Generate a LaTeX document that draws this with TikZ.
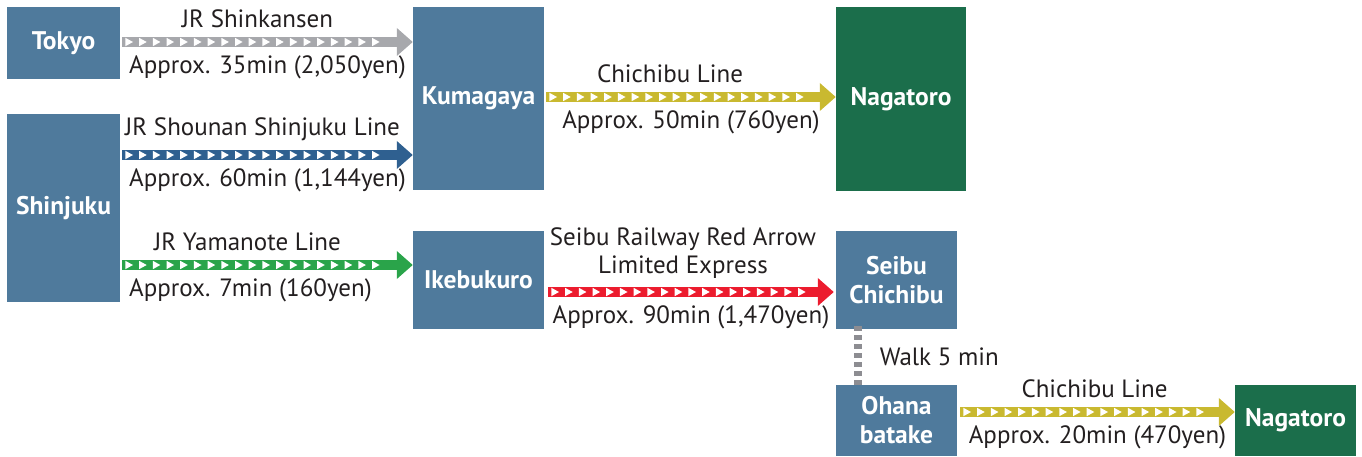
\documentclass[tikz,border=0pt]{standalone}
\usepackage{fontspec}
\setmainfont{PT Sans}
\usetikzlibrary{arrows.meta,decorations.markings,calc}
\definecolor{stationblue}{HTML}{4F7A9C}
\definecolor{goalgreen}{HTML}{1B6E4B}
\definecolor{textgray}{HTML}{231F20}
\definecolor{railgray}{HTML}{A7A8AC}
\definecolor{railblue}{HTML}{2F6090}
\definecolor{railgreen}{HTML}{2AA44A}
\definecolor{railolive}{HTML}{C9B930}
\definecolor{railred}{HTML}{EC1C2E}
\definecolor{walkgray}{HTML}{8D8D92}
\tikzset{
  station/.style={fill=stationblue, text=white, align=center, inner sep=0pt,
    font=\bfseries\fontsize{25.5}{29}\selectfont},
  goal/.style={station, fill=goalgreen},
  rail/.style={draw=#1, line width=10pt, -{Triangle[length=16pt,width=27pt]},
    postaction={decorate, decoration={markings,
      mark=between positions 7pt and -24pt step 13.7pt with
        {\fill[white] (-3.8pt,-4.2pt) -- (3.8pt,0pt) -- (-3.8pt,4.2pt) -- cycle;}}}},
  walk/.style={draw=walkgray, line width=8pt, dash pattern=on 5pt off 4pt},
  info/.style={text=textgray, inner sep=0pt, align=center,
    font=\fontsize{25}{28}\selectfont}
}
\begin{document}
\begin{tikzpicture}[x=1pt,y=-1pt]
    \useasboundingbox (0,0) rectangle (1362,457);
    % stations
    \node[station, minimum width=113, minimum height=72] (tokyo) at (63.5,43) {Tokyo};
    \node[station, minimum width=113, minimum height=188] (shinjuku) at (63.5,208) {Shinjuku};
    \node[station, minimum width=131, minimum height=183] (kumagaya) at (478.5,98.5) {Kumagaya};
    \node[station, minimum width=131, minimum height=98] (ikebukuro) at (478.5,280) {Ikebukuro};
    \node[goal, minimum width=130, minimum height=184] (nagatoro) at (901,99) {Nagatoro};
    \node[station, minimum width=121, minimum height=98] (seibu) at (896.5,280) {Seibu\\Chichibu};
    \node[station, minimum width=121, minimum height=71] (ohana) at (896.5,420.5) {Ohana\\batake};
    \node[goal, minimum width=121, minimum height=71] (nagatoro2) at (1295.5,420.5) {Nagatoro};
    % start points
    \path (tokyo.east) ++(2,-1) coordinate (tk);
    \path (shinjuku.east) ++(2,-53) coordinate (sj1);
    \path (shinjuku.east) ++(2,57) coordinate (sj2);
    \path (kumagaya.east) ++(2,-1.5) coordinate (kg);
    \path (ikebukuro.east) ++(4,12) coordinate (ik);
    \path (ohana.east) ++(3,-8.5) coordinate (oh);
    % lines
    \draw[rail=railgray] (tk) -- (tk -| kumagaya.west)
      node[info, midway, above=9pt, xshift=-10pt] {JR Shinkansen}
      node[info, midway, below=9pt] {Approx. 35min (2,050yen)};
    \draw[rail=railblue] (sj1) -- (sj1 -| kumagaya.west)
      node[info, midway, above=9pt, xshift=-5pt] {JR Shounan Shinjuku Line}
      node[info, midway, below=9pt] {Approx. 60min (1,144yen)};
    \draw[rail=railgreen] (sj2) -- (sj2 -| ikebukuro.west)
      node[info, midway, above=9pt, xshift=-20pt] {JR Yamanote Line}
      node[info, midway, below=9pt, xshift=-17pt] {Approx. 7min (160yen)};
    \draw[rail=railolive] (kg) -- (kg -| nagatoro.west)
      node[info, midway, above=9pt, xshift=-21pt] {Chichibu Line}
      node[info, midway, below=9pt] {Approx. 50min (760yen)};
    \draw[rail=railred] (ik) -- ([xshift=-2pt]ik -| seibu.west)
      node[info, midway, above=9pt, xshift=-8pt] {Seibu Railway Red Arrow\\Limited Express}
      node[info, midway, below=9pt] {Approx. 90min (1,470yen)};
    \draw[rail=railolive] (oh) -- (oh -| nagatoro2.west)
      node[info, midway, above=9pt, xshift=-3pt] {Chichibu Line}
      node[info, midway, below=9pt] {Approx. 20min (470yen)};
    % walk
    \draw[walk] ([xshift=22pt,yshift=3pt]seibu.south west) -- ([xshift=22pt,yshift=-2pt]ohana.north west)
      node[info, midway, right=18pt] {Walk 5 min};
\end{tikzpicture}
\end{document}
